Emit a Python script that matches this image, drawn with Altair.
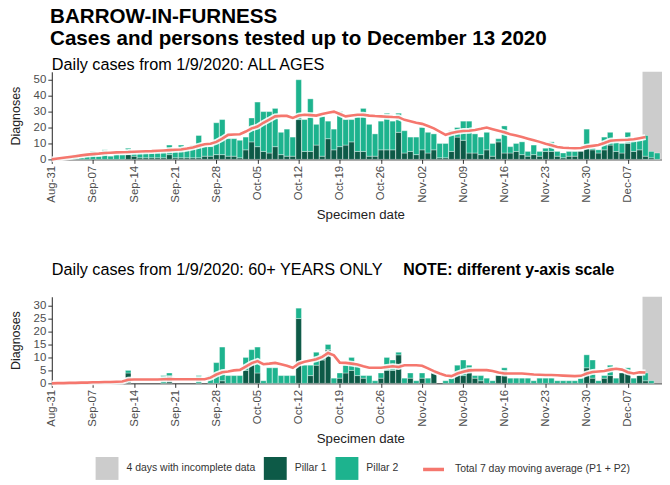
import altair as alt
import pandas as pd

FONT = "Liberation Sans"

# ---- data (one value per day from 2020-08-31) ----
dates = pd.date_range("2020-08-31", periods=104, freq="D")

all_p1 = [0,0,0,0,0,0,0,0,0,0,
          0,0,0,3,2,1,1,1,1,1,
          3,1,1,1,1,1,2,2,3,3,
          2,2,1,6,11,8,5,4,8,3,
          2,2,25,5,5,9,2,13,6,8,
          9,11,5,5,2,2,6,6,6,17,
          4,5,3,6,4,6,1,1,5,14,
          12,4,4,3,6,2,11,4,4,5,
          3,2,3,2,5,5,2,1,2,2,
          5,7,6,4,6,9,5,4,10,5,
          6,2,1,0]
all_p2 = [0,0,1,1,3,1,2,5,2,6,
          2,3,3,4,2,3,4,3,4,4,
          6,5,8,6,8,14,6,6,20,22,
          11,11,11,8,15,28,25,26,24,14,
          17,12,25,20,33,13,25,11,13,22,
          16,14,22,27,20,14,18,23,18,12,
          14,9,11,14,13,10,9,9,13,6,
          12,20,12,11,11,8,2,17,4,5,
          8,3,6,3,2,6,3,3,3,3,
          0,12,1,2,8,8,6,6,7,7,
          6,13,4,4]
all_avg = [0,0.5,1,1.5,2,2.5,3,3.3,3.6,4,
           4.2,4.4,4.5,4.6,4.8,5,5.1,5.2,5.4,5.6,
           5.8,6,6.2,6.8,7.5,8.5,9.5,9.8,11,13,
           15.4,15.6,15.8,17.5,19.5,20.6,23,25,27,27.3,
           27.3,26,27.5,28,27.8,27.5,28.5,29.3,30,28.5,
           27,27.5,28,28,27.5,27.2,27,26.8,26.6,26.5,
           24.8,24,23,22.3,21,19.5,17.5,15.4,16.5,17.3,
           17.8,18,18.5,19.2,20,19,18,17,15.8,15,
           14,13,12,11,9.8,8.8,7.8,7.3,7.1,7,
           7.2,8,8.5,9,10.3,11.7,12,12.2,12.3,12.6,
           13.3,14]

old_p1 = [0,0,0,0,0,0,0,0,0,0,
          0,0,0,4,0,0,0,0,0,0,
          3,0,0,0,0,0,0,0,0,1,
          0,0,0,5,8,4,0,0,0,0,
          0,0,25,0,3,7,9,13,0,2,
          4,5,3,2,0,0,2,5,5,11,
          0,2,0,2,0,4,0,0,0,4,
          3,6,2,1,0,0,3,5,0,0,
          0,0,0,0,0,0,0,0,0,0,
          0,6,2,0,2,3,0,4,4,0,
          3,1,0,0]
old_p2 = [0,0,0,0,0,0,0,0,0,0,
          0,0,0,1,0,0,0,0,0,3,
          1,0,0,0,0,3,0,3,8,13,
          3,3,3,5,5,10,1,6,6,3,
          3,3,4,7,4,5,2,2,2,2,
          3,5,4,1,3,1,2,5,4,1,
          2,2,1,2,2,0,0,1,2,3,
          6,1,1,2,2,1,0,1,2,2,
          2,2,1,2,2,2,1,1,1,1,
          2,5,7,1,1,4,2,0,2,2,
          0,3,1,0]
old_avg = [0,0.1,0.1,0.2,0.2,0.3,0.3,0.4,0.4,0.5,
           0.5,0.6,0.7,1.4,1.5,1.5,1.5,1.5,1.5,1.6,
           1.7,1.6,1.6,1.6,1.6,1.6,1.6,2.2,3.4,4.3,
           4.6,5.0,5.2,6.5,7.8,8.6,7.4,7.6,7.9,7.4,
           6.8,6.0,7.6,8.3,8.8,9.3,10.2,11.7,10.8,8.0,
           7.9,7.6,7.3,6.6,6.0,6.0,6.0,6.3,6.6,6.3,
           7.0,7.0,7.0,6.8,5.8,4.7,3.8,3.0,2.8,3.8,
           4.5,5.0,5.1,5.1,5.1,4.8,4.2,3.8,3.8,3.8,
           3.8,3.6,3.4,3.3,3.2,3.2,3.1,3.0,2.9,2.8,
           2.9,3.8,4.4,4.6,4.8,5.3,5.6,5.3,4.3,3.8,
           4.3,4.2]

band_label = "4 days with incomplete data"
band_start = ["2020-12-09T12:00:00"]
band_end = ["2020-12-13T12:00:00"]
series_names = [band_label, "Pillar 1", "Pillar 2"]
series_colors = ["#cccccc", "#0d5a47", "#1db38e"]
avg_label = "Total 7 day moving average (P1 + P2)"
avg_color = "#f5776e"
week_ticks = [(8, 31), (9, 7), (9, 14), (9, 21), (9, 28), (10, 5), (10, 12), (10, 19),
              (10, 26), (11, 2), (11, 9), (11, 16), (11, 23), (11, 30), (12, 7), (12, 14)]
title_lines = ["BARROW-IN-FURNESS", "Cases and persons tested up to December 13 2020"]
panel1_title = "Daily cases from 1/9/2020: ALL AGES"
panel2_title = "Daily cases from 1/9/2020: 60+ YEARS ONLY"
panel2_note = "NOTE: different y-axis scale"

# ---- shared scales / axes ----
x_scale = alt.Scale(domain=[alt.DateTime(year=2020, month=8, date=31),
                            alt.DateTime(year=2020, month=12, date=14)])
x_axis = alt.Axis(values=[alt.DateTime(year=2020, month=m, date=d) for m, d in week_ticks],
                  format="%b-%d", labelAngle=270, labelAlign="right", labelBaseline="middle",
                  title="Specimen date", grid=False, labelFontSize=11.5, titleFontSize=13.3,
                  titleFontWeight="normal", labelColor="#4d4d4d", titleColor="#222",
                  domainColor="#222", tickColor="#333", tickSize=4, labelPadding=2,
                  titlePadding=5, labelFont=FONT, titleFont=FONT)
color_scale = alt.Scale(domain=series_names, range=series_colors)
fill_legend = alt.Legend(title=None, orient="none", legendX=44, legendY=387,
                         direction="horizontal", symbolType="square", symbolSize=529,
                         symbolStrokeWidth=0, labelFontSize=10.5, labelFont=FONT,
                         labelColor="#333", columnPadding=8, labelOffset=8, padding=0,
                         labelLimit=300)
stroke_legend = alt.Legend(title=None, orient="none", legendX=371, legendY=387,
                           direction="horizontal", symbolType="stroke", symbolSize=441,
                           symbolStrokeWidth=3.5, labelFontSize=10.5, labelFont=FONT,
                           labelColor="#333", labelOffset=9, padding=0, labelLimit=300)


def panel(p1, p2, avg, ymax, ystep):
    bars = pd.DataFrame({"date": dates, "p1": p1, "p2": p2})
    line = pd.DataFrame({"date": dates[:len(avg)], "avg": avg})
    band = pd.DataFrame({"s": band_start, "e": band_end, "series": [band_label]})

    y_scale = alt.Scale(domain=[0, ymax], nice=False)
    y_axis = alt.Axis(values=list(range(0, int(ymax) + 1, ystep)), title="Diagnoses", grid=False,
                      labelFontSize=11.5, titleFontSize=12.5, titleFontWeight="normal",
                      labelColor="#4d4d4d", titleColor="#222", domainColor="#222",
                      tickColor="#333", tickSize=4, labelPadding=2, titlePadding=11,
                      labelFont=FONT, titleFont=FONT)

    band_layer = alt.Chart(band).mark_rect().encode(
        x=alt.X("s:T", scale=x_scale, axis=x_axis),
        x2="e:T",
        color=alt.Color("series:N", scale=color_scale, legend=fill_legend),
    )

    def bar_layer(lo_expr, hi_expr, name, keep):
        return alt.Chart(bars).transform_filter(keep).transform_calculate(
            x0="toNumber(toDate(datum.date)) - 41000000",
            x1="toNumber(toDate(datum.date)) + 41000000",
            lo=lo_expr, hi=hi_expr, series=f"'{name}'",
        ).mark_bar(stroke="white", strokeWidth=0.6, strokeOpacity=0.6).encode(
            x=alt.X("x0:T", scale=x_scale, axis=x_axis),
            x2="x1:T",
            y=alt.Y("hi:Q", scale=y_scale, axis=y_axis),
            y2="lo:Q",
            color=alt.Color("series:N", scale=color_scale, legend=fill_legend),
        )

    dark = bar_layer("0", "datum.p1", "Pillar 1", "datum.p1 > 0")
    teal = bar_layer("datum.p1", "datum.p1 + datum.p2", "Pillar 2", "datum.p2 > 0")

    halo = alt.Chart(line).mark_line(color="white", strokeWidth=6, opacity=0.9).encode(
        x=alt.X("date:T", scale=x_scale, axis=x_axis),
        y=alt.Y("avg:Q", scale=y_scale, axis=y_axis),
    )
    ma = alt.Chart(line).transform_calculate(k=f"'{avg_label}'").mark_line(strokeWidth=2.6).encode(
        x=alt.X("date:T", scale=x_scale, axis=x_axis),
        y=alt.Y("avg:Q", scale=y_scale, axis=y_axis),
        stroke=alt.Stroke("k:N", scale=alt.Scale(domain=[avg_label], range=[avg_color]),
                          legend=stroke_legend),
    )
    return [band_layer, dark, teal, halo, ma]


top = alt.layer(*panel(all_p1, all_p2, all_avg, 55, 10)).properties(
    width=620, height=88,
    title=alt.TitleParams(panel1_title, anchor="start", frame="group",
                          fontSize=16.3, fontWeight="normal", font=FONT, color="black", offset=-1),
)

heads = pd.DataFrame({"t": [panel2_title, panel2_note], "w": ["normal", "bold"]})
head_norm = alt.Chart(heads).transform_filter("datum.w == 'normal'").mark_text(
    align="left", baseline="alphabetic", fontSize=16.3, font=FONT, color="black"
).encode(text="t:N", x=alt.value(0), y=alt.value(-22))
head_bold = alt.Chart(heads).transform_filter("datum.w == 'bold'").mark_text(
    align="left", baseline="alphabetic", fontSize=16, fontWeight="bold", font=FONT, color="black"
).encode(text="t:N", x=alt.value(353), y=alt.value(-22))

bottom = alt.layer(*panel(old_p1, old_p2, old_avg, 33.4, 5), head_norm, head_bold).properties(
    width=620, height=87,
)

chart = alt.vconcat(top, bottom, spacing=41).properties(
    title=alt.TitleParams(title_lines, anchor="start", fontSize=20.7, fontWeight="bold", font=FONT,
                          color="black", dx=41, lineHeight=22, offset=7),
    padding={"left": 1, "top": -3, "right": -13, "bottom": -1},
).configure_view(stroke=None)

chart.save("out.html", embed_options={"renderer": "svg", "actions": False})
